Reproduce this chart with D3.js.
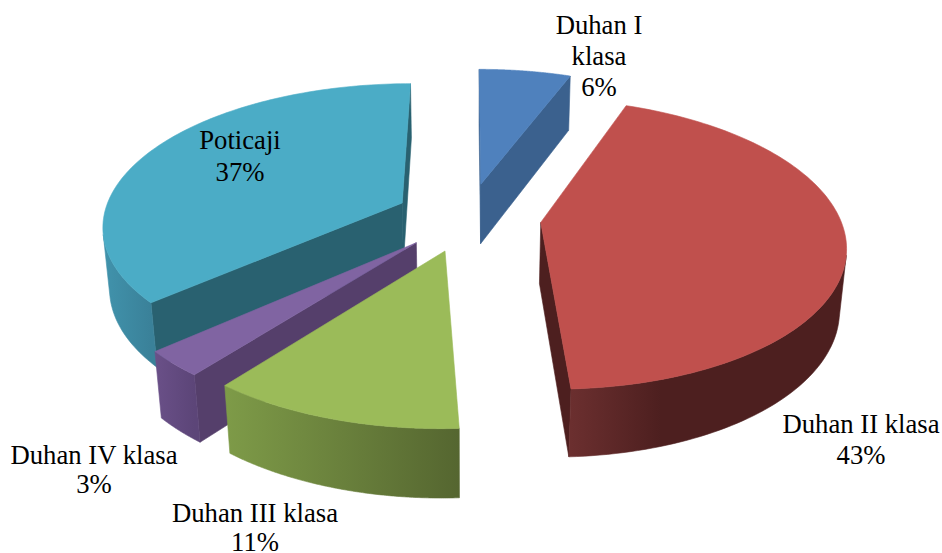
<!DOCTYPE html>
<html>
<head>
<meta charset="utf-8">
<script src="https://cdn.jsdelivr.net/npm/d3@7/dist/d3.min.js"></script>
<style>
  html, body { margin: 0; padding: 0; background: #fff; }
  svg { display: block; }
  text { font-family: "Liberation Serif", serif; font-size: 26.7px; fill: #000; text-anchor: middle; }
</style>
</head>
<body>
<script>
// chart data, estimated from the slice edges (labels round these)
const categories = ['Duhan I klasa', 'Duhan II klasa', 'Duhan III klasa', 'Duhan IV klasa', 'Poticaji'];
const shares = [5.8, 43.4, 11.4, 2.9, 36.5];

// slice colours
const topColors = ['#4f81bd', '#c0504d', '#9bbb59', '#8064a2', '#4bacc6'];
const cutColors = ['#3b618e', '#4d1f1f', '#4d1f1f', '#553f6b', '#296170'];
const rimLeft = ['#3b618e', '#6b2f2f', '#7e9b48', '#6a5088', '#4193ac'];
const rimRight = ['#3b618e', '#4d1f1f', '#556630', '#5c4578', '#3a8199'];

// label layout: wrapped name lines, centre x, first baseline, line step
const labelLines = [['Duhan I', 'klasa'], ['Duhan II klasa'], ['Duhan III klasa'], ['Duhan IV klasa'], ['Poticaji']];
const labelX = [599, 861, 255, 94, 240];
const labelY = [34, 433, 522, 464, 149];
const labelStep = [31, 31, 29, 29, 32];

const width = 942, height = 553;

// camera for the tilted pie
const cx = 468, cy = 217, focal = 299, camDist = 6.03;
const tilt = 28.05 * Math.PI / 180;
const thickness = 0.235, explode = 0.245;

function project(x, y, z) {
  // y is towards the viewer, z is up
  const toward = y * Math.cos(tilt) + z * Math.sin(tilt);
  const up = -y * Math.sin(tilt) + z * Math.cos(tilt);
  const s = camDist / (camDist - toward);
  return [cx + focal * x * s, cy - focal * up * s];
}

const svg = d3.select('body').append('svg')
  .attr('width', width)
  .attr('height', height);
const defs = svg.append('defs');

const arcs = d3.pie().sort(null).startAngle(0).endAngle(2 * Math.PI)(shares);
const line = d3.line();

// d3.polygonArea is negative for faces wound the way ours are when they look at the camera
function facesCamera(p) {
  return d3.polygonArea(p) < 0;
}

function face(g, pts, color) {
  g.append('path')
    .attr('d', line(pts) + 'Z')
    .attr('fill', color)
    .attr('stroke', color)
    .attr('stroke-width', 0.6);
}

// back slices first so the front ones overlap them
const drawOrder = [0, 4, 1, 3, 2];

drawOrder.forEach(i => {
  const arc = arcs[i];
  const mid = (arc.startAngle + arc.endAngle) / 2;
  const ox = Math.sin(mid) * explode, oy = -Math.cos(mid) * explode;

  const outer = (a, z) => project(ox + Math.sin(a), oy - Math.cos(a), z);
  const apex = z => project(ox, oy, z);

  const g = svg.append('g').attr('class', 'slice').attr('data-name', categories[i]);
  const angles = d3.range(0, 121).map(k => arc.startAngle + (arc.endAngle - arc.startAngle) * k / 120);

  // cut faces, kept only if they face the camera
  const startFace = [outer(arc.startAngle, 0), apex(0), apex(-thickness), outer(arc.startAngle, -thickness)];
  const endFace = [apex(0), outer(arc.endAngle, 0), outer(arc.endAngle, -thickness), apex(-thickness)];
  [startFace, endFace].forEach(f => {
    if (facesCamera(f)) face(g, f, cutColors[i]);
  });

  // visible part of the rim, one polygon with a horizontal gradient
  const visible = d3.pairs(angles).filter(([a0, a1]) =>
    facesCamera([outer(a1, 0), outer(a0, 0), outer(a0, -thickness), outer(a1, -thickness)]));
  if (visible.length) {
    const run = [visible[0][0], ...visible.map(p => p[1])];
    const rimX = d3.extent(run, a => outer(a, 0)[0]);
    const grad = defs.append('linearGradient')
      .attr('id', 'rim' + i)
      .attr('gradientUnits', 'userSpaceOnUse')
      .attr('x1', rimX[0])
      .attr('x2', i === 1 ? rimX[0] + 90 : rimX[1])
      .attr('y1', 0)
      .attr('y2', 0);
    grad.append('stop').attr('offset', 0).attr('stop-color', rimLeft[i]);
    grad.append('stop').attr('offset', 1).attr('stop-color', rimRight[i]);
    const rim = [...run.map(a => outer(a, 0)), ...run.slice().reverse().map(a => outer(a, -thickness))];
    face(g, rim, `url(#rim${i})`);
  }

  // top surface
  face(g, [apex(0), ...angles.map(a => outer(a, 0))], topColors[i]);
});

// labels
const pct = d3.format('.0f');
labelLines.forEach((lines, i) => {
  const t = svg.append('text').attr('y', labelY[i]);
  lines.concat(pct(shares[i]) + '%').forEach((s, k) => {
    t.append('tspan')
      .attr('x', labelX[i])
      .attr('dy', k === 0 ? 0 : labelStep[i])
      .text(s);
  });
});
</script>
</body>
</html>
